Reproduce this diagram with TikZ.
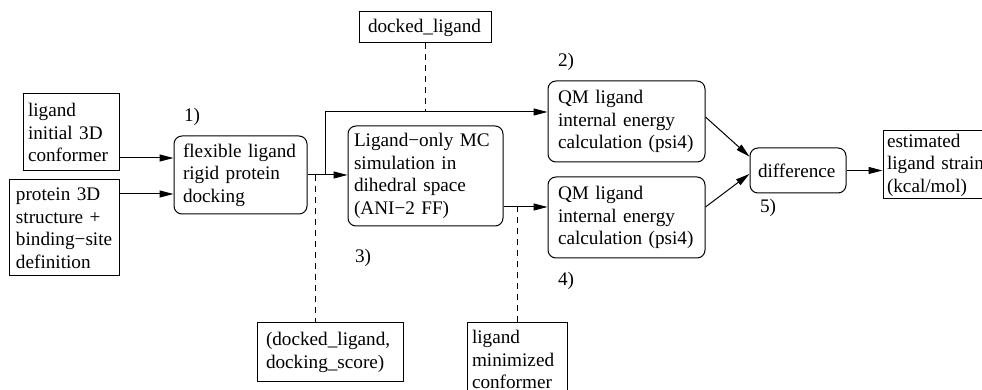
\documentclass[tikz,border=0pt]{standalone}
\usepackage{fontspec}
\setmainfont{Liberation Serif}
\usetikzlibrary{arrows.meta}

\begin{document}
\begin{tikzpicture}[x=0.5pt,y=-0.5pt,line width=0.5pt,
      every node/.style={font=\fontsize{9.6pt}{11.25pt}\selectfont},
      sq/.style={draw,align=left,inner ysep=0pt,inner xsep=2.5pt},
      rbox/.style={sq,rounded corners=4pt,inner xsep=4.5pt},
      arr/.style={-{Triangle[length=7pt,width=3.5pt]}},
      tap/.style={dash pattern=on 3pt off 2.5pt}]
    \useasboundingbox (0,0) rectangle (982,390);
    % inputs
    \node[sq,text width=43pt,minimum height=38.5pt] (lig) at (71,132.5) {ligand\\ initial 3D\\ conformer};
    \node[sq,inner xsep=3.5pt,text width=48pt,minimum height=48pt] (prot) at (64,228) {protein 3D\\ structure +\\ binding−site\\ definition};
    % steps
    \node[rbox,text width=57.5pt,minimum height=39pt] (dock) at (240.5,175) {flexible ligand\\ rigid protein\\ docking};
    \node[rbox,inner xsep=3pt,text width=71.5pt,minimum height=50pt] (mc) at (425.5,176) {Ligand−only MC\\ simulation in\\ dihedral space\\ (ANI−2 FF)};
    \node[rbox,inner xsep=5pt,text width=68.5pt,minimum height=40.5pt] (qm1) at (626.5,121.5) {QM ligand\\ internal energy\\ calculation (psi4)};
    \node[rbox,inner xsep=5pt,text width=68.5pt,minimum height=40.5pt] (qm2) at (626.5,217.5) {QM ligand\\ internal energy\\ calculation (psi4)};
    \node[rbox,inner xsep=4pt,text width=40pt,minimum height=22.5pt] (diff) at (798,170.5) {difference};
    \node[sq,inner xsep=2pt,text width=49.5pt,minimum height=34pt] (est) at (936.5,165) {estimated\\ ligand strain\\ (kcal/mol)};
    % intermediate data
    \node[sq,inner xsep=4.5pt,text width=57pt,minimum height=15.5pt] (dl) at (425,27.5) {docked\_ligand};
    \node[sq,inner xsep=4.5pt,text width=64pt,minimum height=29.5pt] (ds) at (330,352.5) {(docked\_ligand,\\ docking\_score)};
    \node[sq,text width=45pt,minimum height=36.5pt] (lm) at (517,359.5) {ligand\\ minimized\\ conformer};
    % step numbers
    \node (n1) at (192,117) {1)};
    \node (n2) at (566,62) {2)};
    \node (n3) at (363,258) {3)};
    \node (n4) at (566,281) {4)};
    \node (n5) at (768,208) {5)};
    % flow
    \coordinate (split) at (325,175);
    \coordinate (tapd) at (315,175);
    \coordinate (in2) at ([yshift=4.75pt]qm1.west);
    \coordinate (in3) at ([yshift=5.25pt]qm2.west);
    \draw[arr] ([yshift=8.5pt]dock.west -| lig.east) -- ([yshift=8.5pt]dock.west);
    \draw[arr] ([yshift=-9.5pt]dock.west -| prot.east) -- ([yshift=-9.5pt]dock.west);
    \draw[arr] (dock.east) -- (dock.east -| mc.west);
    \draw[arr] (split) |- (in2);
    \draw[arr] (mc.east |- in3) -- (in3);
    \draw[arr] ([yshift=2.25pt]qm1.east) -- (diff.164);
    \draw[arr] ([yshift=5.25pt]qm2.east) -- (diff.184);
    \draw[arr] (diff.east) -- (diff.east -| est.west);
    % data taps
    \draw[tap] (dl.south) -- (dl.south |- in2);
    \draw[tap] (tapd) -- (tapd |- ds.north);
    \draw[tap] (lm.north) -- (lm.north |- in3);
  \end{tikzpicture}
\end{document}
